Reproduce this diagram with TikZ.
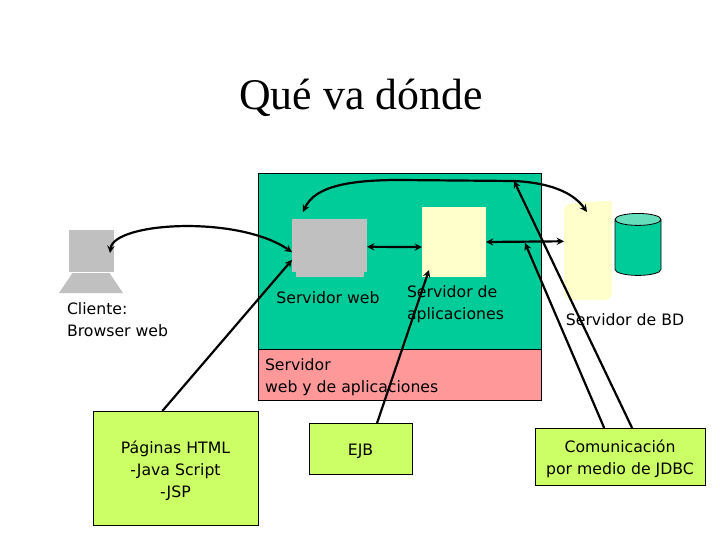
\documentclass[tikz,border=0pt]{standalone}
\usepackage{fontspec}
\setmainfont{DejaVu Sans}
\newfontfamily\titlefont{Liberation Serif}
\usetikzlibrary{arrows, shapes.geometric}

\definecolor{verdeapp}{HTML}{00CC99}
\definecolor{verdeclaro}{HTML}{66DDBB}
\definecolor{rosaapp}{HTML}{FF9999}
\definecolor{crema}{HTML}{FFFFCC}
\definecolor{gris}{HTML}{C0C0C0}
\definecolor{lima}{HTML}{CCFF66}

\begin{document}
\begin{tikzpicture}[
                > = stealth, % arrow head style
                x = 1pt, y = -1pt, % reference pixels
                line width = 2.2pt % line style
            ]

            \tikzstyle{every node}=[inner sep = 0pt, outer sep = 0pt,
            font = \fontsize{15.7}{22}\selectfont]
            \tikzstyle{nota}=[draw = black, line width = 0.8pt, fill = lima,
            align = center, rectangle, execute at begin node = {\rule{0pt}{#1}}]
            \tikzstyle{rotulo}=[align = left, anchor = west]

            \useasboundingbox (0,0) rectangle (720,540);

            \node (titulo) at (361,98) {\titlefont\fontsize{43.8}{48}\selectfont Qué va dónde};

            % the application server
            \node (fondo) [draw = black, line width = 0.8pt, fill = verdeapp,
            minimum width = 283, minimum height = 176] at (399.5,261) {};
            \node (pie) [draw = black, line width = 0.8pt, fill = rosaapp,
            minimum width = 283, minimum height = 51] at (399.5,374.5) {};

            % client
            \node (pantalla) [fill = gris, minimum width = 45, minimum height = 42]
            at (91.5,251) {};
            \node (teclado) [fill = gris, trapezium, inner sep = 1pt,
            trapezium stretches = true,
            trapezium left angle = 70, trapezium right angle = 70,
            minimum width = 64, minimum height = 20] at (91,283) {};

            % boxes inside
            \node (basew) [fill = gris, minimum width = 68, minimum height = 10]
            at (330,272) {};
            \node (web) [fill = gris, minimum width = 75, minimum height = 53]
            at (329.5,245.5) {};
            \node (app) [fill = crema, minimum width = 64, minimum height = 70]
            at (454,242) {};

            % database
            \fill[crema, rounded corners = 7pt] (564,300) -- (564,204) -- (585,202)
            -- (612,202) -- (612,300) -- cycle;
            \fill[crema] (596,201) rectangle (612,215);
            \node (srvbd) [minimum width = 48, minimum height = 99] at (588,250.5) {};
            \node (bd) [draw = black, line width = 0.8pt, cylinder, inner sep = 1pt,
            shape border rotate = 90, aspect = 6, cylinder uses custom fill,
            cylinder body fill = verdeapp, cylinder end fill = verdeclaro,
            minimum width = 46, minimum height = 62] at (638,248.5) {};

            % labels
            \node (lcliente) [rotulo] at (67,319.5) {Cliente:\\Browser web};
            \node (lweb) at (328,297.5) {Servidor web};
            \node (lapp) [rotulo] at (407,304) {Servidor de\\aplicaciones};
            \node (lbd) at (625,320) {Servidor de BD};
            \node (lpie) [rotulo] at (265,377) {Servidor\\web y de aplicaciones};

            % notes
            \node (paginas) [nota = 63pt, minimum width = 165, minimum height = 114]
            at (175.5,468) {Páginas HTML\\-Java Script\\-JSP};
            \node (ejb) [nota = 18pt, minimum width = 103, minimum height = 51]
            at (360.5,448.5) {EJB};
            \node (jdbc) [nota = 39pt, minimum width = 170, minimum height = 57]
            at (620,456.5) {Comunicación\\por medio de JDBC};

            % free ends
            \coordinate (cpc) at (110,253);
            \coordinate (cweb) at (303,212);
            \coordinate (cbd) at (587,212);
            \coordinate (capp) at (429,270);
            \coordinate (carriba) at (514,181);
            \coordinate (cmedio) at (525,243);

            \draw[<->] (cpc) .. controls (114,222) and (238,215) .. (web.190);
            \draw[<->] (cweb) .. controls (315,186) and (350,180) .. (400,180)
            -- (carriba) .. controls (555,183) and (575,195) .. (cbd);
            \draw[<->] (web.-2) -- (app.189);
            \draw[<->] (app.0) -- (srvbd.159);
            \draw[->] (paginas.103) -- (web.201);
            \draw[->] (ejb.57) -- (capp);
            \draw[->] (jdbc.119) -- (cmedio);
            \draw[->] (jdbc.67) -- (carriba);

        \end{tikzpicture}
\end{document}
